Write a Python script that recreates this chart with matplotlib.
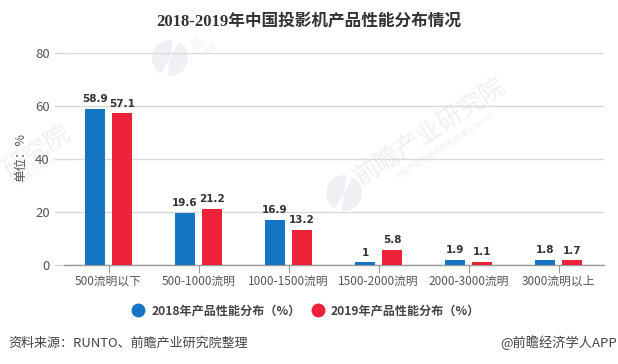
import numpy as np
import matplotlib
matplotlib.use("Agg")
import matplotlib.pyplot as plt
from matplotlib.lines import Line2D
from matplotlib.patches import Circle, Wedge
from matplotlib.transforms import IdentityTransform

plt.rcParams["font.family"] = ["Noto Sans CJK SC", "DejaVu Sans"]

categories = ["500流明以下", "500-1000流明", "1000-1500流明", "1500-2000流明", "2000-3000流明", "3000流明以上"]
values_2018 = [58.9, 19.6, 16.9, 1, 1.9, 1.8]
values_2019 = [57.1, 21.2, 13.2, 5.8, 1.1, 1.7]
y_ticks = [0, 20, 40, 60, 80]

W, H = 618, 364
fig = plt.figure(figsize=(W / 100, H / 100), dpi=100)
# axes in pixel coordinates of the reference
left, right, top, bottom = 63.5, 603.5, 52.5, 265
ax = fig.add_axes([left / W, 1 - bottom / H, (right - left) / W, (bottom - top) / H])
ax.patch.set_alpha(0)

x = np.arange(len(categories))
w = 0.233
off = 0.15
blue = "#1475c4"
red = "#ee2238"
ax.bar(x - off, values_2018, w, color=blue, zorder=3)
ax.bar(x + off, values_2019, w, color=red, zorder=3)

for i in x:
    ax.text(i - off, values_2018[i] + 1.8, str(values_2018[i]), ha="center", va="bottom",
            fontsize=7.5, fontweight="bold", family="DejaVu Sans", color="#333333", zorder=4)
    ax.text(i + off, values_2019[i] + 1.8, str(values_2019[i]), ha="center", va="bottom",
            fontsize=7.5, fontweight="bold", family="DejaVu Sans", color="#333333", zorder=4)

ax.set_xlim(-0.5, 5.5)
ax.set_ylim(0, 80)
ax.set_yticks(y_ticks)
ax.set_xticks(x)
ax.set_xticklabels(categories, fontsize=8.5, color="#555555")
ax.tick_params(axis="x", length=6, width=0.8, color="#999999", pad=1)
ax.tick_params(axis="y", length=0, labelsize=9.5, labelcolor="#555555", pad=10)
ax.grid(axis="y", color="#d9d9d9", lw=1, zorder=1)
ax.set_axisbelow(True)
for s in ["top", "right", "left"]:
    ax.spines[s].set_visible(False)
ax.spines["bottom"].set_color("#999999")
ax.spines["bottom"].set_linewidth(1)
# gridlines start a little left of the axis
for v in y_ticks:
    ax.plot([-0.6, -0.5], [v, v], color="#d9d9d9", lw=1, clip_on=False, zorder=1)


def px(xp, yp):
    return xp / W, 1 - yp / H


def logo(xp, yp, r=18):
    c = (xp, H - yp)
    fig.add_artist(Circle(c, r, color="#eef0f4", lw=0, transform=IdentityTransform(), zorder=-2))
    fig.add_artist(Wedge(c, r + 1, 60, 82, color="white", lw=0, transform=IdentityTransform(), zorder=-1.5))
    fig.add_artist(Wedge(c, r + 1, 240, 262, color="white", lw=0, transform=IdentityTransform(), zorder=-1.5))


mark = "#eef0f4"
# watermarks
logo(344, 193)
fig.text(*px(430, 131), "前瞻产业研究院", fontsize=18, color=mark, rotation=33,
         ha="center", va="center", zorder=-1)
fig.text(*px(445, 146), "中国产业咨询领导者(股票:839599)", fontsize=5.5, color=mark, rotation=33,
         ha="center", va="center", zorder=-1)
logo(170, 58)
fig.text(*px(197, 44), "前", fontsize=9, color=mark, rotation=33,
         ha="center", va="center", zorder=-1)
fig.text(*px(209, 50), "中国", fontsize=5.5, color=mark, rotation=33,
         ha="center", va="center", zorder=-1)
fig.text(*px(37, 152), "研究院", fontsize=18, color=mark, rotation=33,
         ha="center", va="center", zorder=-1)
fig.text(*px(38, 170), "(股票:839599)", fontsize=5.5, color=mark, rotation=33,
         ha="center", va="center", zorder=-1)

fig.text(*px(309, 21), "2018-2019年中国投影机产品性能分布情况", fontsize=12, fontweight="bold",
         family=["Liberation Serif", "Noto Sans CJK SC"], color="#333333", ha="center", va="center")
fig.text(*px(21, 158), "单位：%", fontsize=9, color="#555555", rotation=90, ha="center", va="center")

# legend
h1 = Line2D([], [], marker="o", ls="", ms=9, color=blue)
h2 = Line2D([], [], marker="o", ls="", ms=9, color=red)
leg = fig.legend([h1, h2], ["2018年产品性能分布（%）", "2019年产品性能分布（%）"],
                 loc="center", bbox_to_anchor=px(303, 311), ncol=2, frameon=False,
                 handletextpad=0.1, columnspacing=0.4,
                 prop={"size": 8.7, "weight": "bold"})
for t in leg.get_texts():
    t.set_color("#444444")

fig.text(*px(8, 343), "资料来源：RUNTO、前瞻产业研究院整理", fontsize=9.4, color="#444444",
         ha="left", va="center")
fig.text(*px(617, 343), "@前瞻经济学人APP", fontsize=9.5, color="#444444", ha="right", va="center")

fig.savefig("out.png", dpi=100)
